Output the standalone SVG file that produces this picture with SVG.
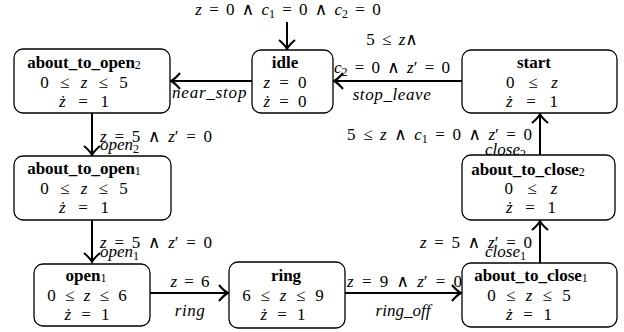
<svg xmlns="http://www.w3.org/2000/svg" width="624" height="332" viewBox="0 0 624 332">
<style>
.box{fill:#fff;stroke:#000;stroke-width:1.3}
text{font-family:"Liberation Serif","DejaVu Serif",serif;font-size:17px;fill:#000}
.c{text-anchor:middle}
.e{text-anchor:end}
.b{font-weight:bold}
.i{font-style:italic}
.n{font-style:normal}
.s{font-size:12px;font-style:normal;font-weight:normal}
.si{font-size:12px;font-style:italic}
.edge{fill:none;stroke:#000;stroke-width:2;marker-end:url(#ah)}
</style>
<defs>
<marker id="ah" viewBox="-11 -9 13 18" markerWidth="13" markerHeight="18" refX="0" refY="0" orient="auto" markerUnits="userSpaceOnUse">
<path d="M-9,-8 Q-4,-2 0,0 Q-4,2 -9,8" fill="none" stroke="#000" stroke-width="2"/>
</marker>
</defs>

<g id="connectors">
<path class="edge" d="M287,22 V49"/>
<path class="edge" d="M252,81 H171"/>
<path class="edge" d="M462,81 H334"/>
<path class="edge" d="M92,113 V155"/>
<path class="edge" d="M92,220 V262"/>
<path class="edge" d="M150,293 H228"/>
<path class="edge" d="M345,293 H461"/>
<path class="edge" d="M540,263 V221"/>
<path class="edge" d="M540,155 V114"/>
<text class="c" x="288" y="15" style="word-spacing:3px"><tspan class="i">z</tspan> = 0 ∧ <tspan class="i">c</tspan><tspan class="s" dy="3">1</tspan><tspan dy="-3"> = 0 ∧ </tspan><tspan class="i">c</tspan><tspan class="s" dy="3">2</tspan><tspan dy="-3"> = 0</tspan></text>
<text x="172" y="98" class="i" style="letter-spacing:0.8px">near_stop</text>
<text class="c" x="392" y="45" style="word-spacing:3px">5 ≤ <tspan class="i">z</tspan>∧</text>
<text class="c" x="392" y="73" style="word-spacing:3px"><tspan class="i">c</tspan><tspan class="s" dy="3">2</tspan><tspan dy="-3"> = 0 ∧ </tspan><tspan class="i">z</tspan>′ = 0</text>
<text class="c i" x="392" y="100" style="letter-spacing:0.6px">stop_leave</text>
<text x="100" y="142" style="word-spacing:3.5px"><tspan class="i">z</tspan> = 5 ∧ <tspan class="i">z</tspan>′ = 0</text>
<text x="100" y="150" class="i">open<tspan class="s" dy="3">2</tspan></text>
<text x="100" y="248" style="word-spacing:3.5px"><tspan class="i">z</tspan> = 5 ∧ <tspan class="i">z</tspan>′ = 0</text>
<text x="100" y="257" class="i">open<tspan class="s" dy="3">1</tspan></text>
<text class="c" x="190" y="287" style="word-spacing:3px"><tspan class="i">z</tspan> = 6</text>
<text class="c i" x="190" y="316" style="letter-spacing:0.5px">ring</text>
<text x="347" y="287" style="word-spacing:4px"><tspan class="i">z</tspan> = 9 ∧ <tspan class="i">z</tspan>′ = 0</text>
<text class="c i" x="403" y="316">ring_off</text>
<text class="e" x="532" y="248" style="word-spacing:3.5px"><tspan class="i">z</tspan> = 5 ∧ <tspan class="i">z</tspan>′ = 0</text>
<text class="e i" x="526" y="257">close<tspan class="s" dy="3">1</tspan></text>
<text class="e" x="532" y="140" style="word-spacing:3.3px">5 ≤ <tspan class="i">z</tspan> ∧ <tspan class="i">c</tspan><tspan class="s" dy="3">1</tspan><tspan dy="-3"> = 0 ∧ </tspan><tspan class="i">z</tspan>′ = 0</text>
<text class="e i" x="526" y="155">close<tspan class="s" dy="3">2</tspan></text>
</g>

<g id="about_to_open2">
<rect class="box" x="14" y="49" width="156" height="64" rx="9"/>
<text class="c b" x="84" y="68">about_to_open<tspan class="s" dy="1">2</tspan></text>
<text class="c" x="84" y="88" style="word-spacing:7px">0 ≤ <tspan class="i">z</tspan> ≤ 5</text>
<text class="c" x="84" y="107" style="word-spacing:8.5px"><tspan class="i">ż</tspan> = 1</text>
</g>

<g id="idle">
<rect class="box" x="252" y="50" width="81" height="63" rx="9"/>
<text class="c b" x="285" y="68">idle</text>
<text class="c" x="285" y="88" style="word-spacing:5px"><tspan class="i">z</tspan> = 0</text>
<text class="c" x="285" y="107" style="word-spacing:5px"><tspan class="i">ż</tspan> = 0</text>
</g>

<g id="start">
<rect class="box" x="462" y="50" width="155" height="63" rx="9"/>
<text class="c b" x="534" y="68">start</text>
<text class="c" x="532" y="88" style="word-spacing:9.5px">0 ≤ <tspan class="i">z</tspan></text>
<text class="c" x="532" y="107" style="word-spacing:9.5px"><tspan class="i">ż</tspan> = 1</text>
</g>

<g id="about_to_open1">
<rect class="box" x="14" y="156" width="157" height="64" rx="9"/>
<text class="c b" x="84" y="174">about_to_open<tspan class="s" dy="1">1</tspan></text>
<text class="c" x="84" y="194" style="word-spacing:7px">0 ≤ <tspan class="i">z</tspan> ≤ 5</text>
<text class="c" x="84" y="213" style="word-spacing:8.5px"><tspan class="i">ż</tspan> = 1</text>
</g>

<g id="about_to_close2">
<rect class="box" x="462" y="155" width="153" height="65" rx="9"/>
<text class="c b" x="528" y="175">about_to_close<tspan class="s" dy="1">2</tspan></text>
<text class="c" x="531" y="194" style="word-spacing:10px">0 ≤ <tspan class="i">z</tspan></text>
<text class="c" x="531" y="213" style="word-spacing:8.5px"><tspan class="i">ż</tspan> = 1</text>
</g>

<g id="open1">
<rect class="box" x="34" y="264" width="116" height="62" rx="9"/>
<text class="c b" x="86" y="281">open<tspan class="s" dy="1">1</tspan></text>
<text class="c" x="87" y="301" style="word-spacing:5px">0 ≤ <tspan class="i">z</tspan> ≤ 6</text>
<text class="c" x="87" y="320" style="word-spacing:6px"><tspan class="i">ż</tspan> = 1</text>
</g>

<g id="ring">
<rect class="box" x="229" y="262" width="116" height="66" rx="9"/>
<text class="c b" x="286" y="281">ring</text>
<text class="c" x="283" y="301" style="word-spacing:5.5px">6 ≤ <tspan class="i">z</tspan> ≤ 9</text>
<text class="c" x="283" y="320" style="word-spacing:6px"><tspan class="i">ż</tspan> = 1</text>
</g>

<g id="about_to_close1">
<rect class="box" x="462" y="263" width="155" height="64" rx="9"/>
<text class="c b" x="531" y="281">about_to_close<tspan class="s" dy="1">1</tspan></text>
<text class="c" x="529" y="301" style="word-spacing:6px">0 ≤ <tspan class="i">z</tspan> ≤ 5</text>
<text class="c" x="529" y="320" style="word-spacing:6.5px"><tspan class="i">ż</tspan> = 1</text>
</g>
</svg>
